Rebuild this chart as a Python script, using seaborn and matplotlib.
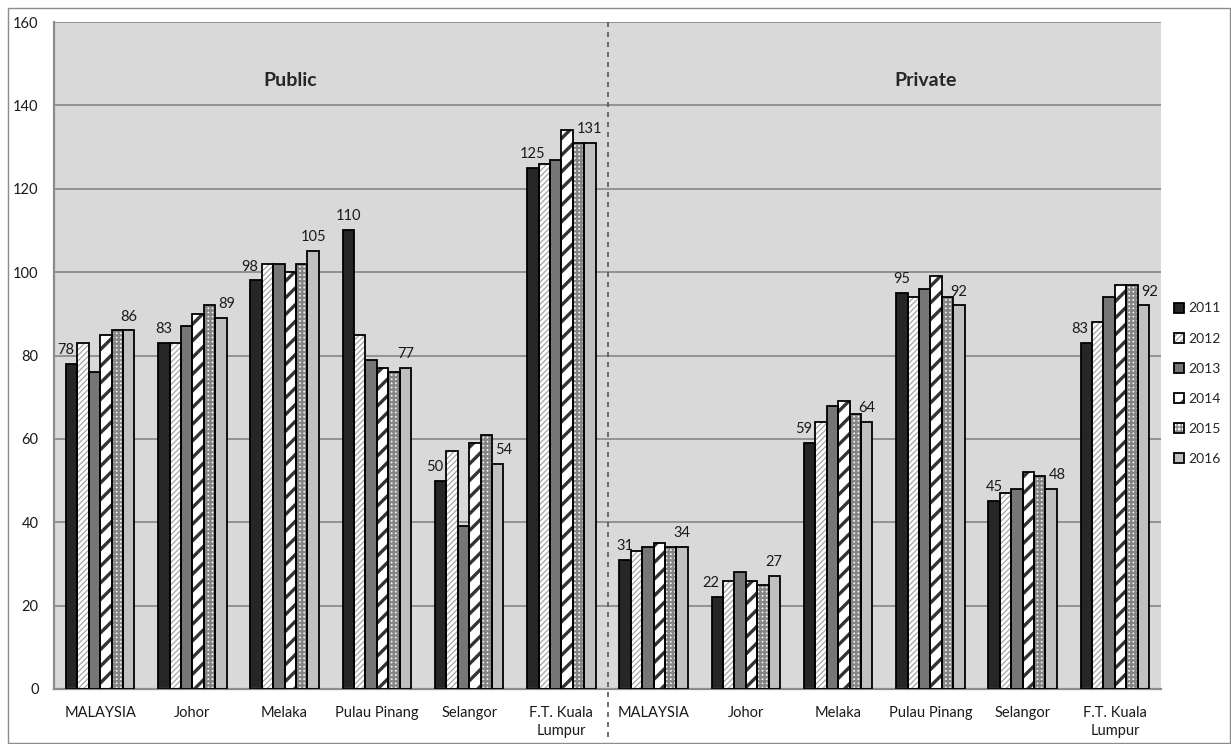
import numpy as np
import pandas as pd
import matplotlib
matplotlib.use("Agg")
import matplotlib.pyplot as plt
import seaborn as sns
from matplotlib.patches import Rectangle
from matplotlib.legend_handler import HandlerTuple

# ---------------- data ----------------
years = ["2011", "2012", "2013", "2014", "2015", "2016"]
regions = ["MALAYSIA", "Johor", "Melaka", "Pulau Pinang", "Selangor", "F.T. Kuala\nLumpur"]
sectors = ["Public", "Private"]

public_2011 = [78, 83, 98, 110, 50, 125]
public_2012 = [83, 83, 102, 85, 57, 126]
public_2013 = [76, 87, 102, 79, 39, 127]
public_2014 = [85, 90, 100, 77, 59, 134]
public_2015 = [86, 92, 102, 76, 61, 131]
public_2016 = [86, 89, 105, 77, 54, 131]

private_2011 = [31, 22, 59, 95, 45, 83]
private_2012 = [33, 26, 64, 94, 47, 88]
private_2013 = [34, 28, 68, 96, 48, 94]
private_2014 = [35, 26, 69, 99, 52, 97]
private_2015 = [34, 25, 66, 94, 51, 97]
private_2016 = [34, 27, 64, 92, 48, 92]

public = [public_2011, public_2012, public_2013, public_2014, public_2015, public_2016]
private = [private_2011, private_2012, private_2013, private_2014, private_2015, private_2016]

rows = []
for sector, table in zip(sectors, [public, private]):
    for yi, y in enumerate(years):
        for ri, r in enumerate(regions):
            rows.append({"slot": f"{sector}|{r}", "region": r, "year": y,
                         "value": table[yi][ri]})
df = pd.DataFrame(rows)
slots = [f"{s}|{r}" for s in sectors for r in regions]

# ---------------- styles ----------------
face = {"2011": "#262626", "2012": "#ffffff", "2013": "#767676",
        "2014": "#ffffff", "2015": "#f4f4f4", "2016": "#c0c0c0"}
hatch = {"2011": None, "2012": "//////", "2013": None,
         "2014": "//", "2015": "++++", "2016": None}
hcol = {"2011": "#262626", "2012": "#a6a6a6", "2013": "#767676",
        "2014": "#333333", "2015": "#858585", "2016": "#c0c0c0"}
hlw = {"2011": 1, "2012": 0.9, "2013": 1, "2014": 2.4, "2015": 1.7, "2016": 1}

sns.set_style("white")
plt.rcParams["font.family"] = ["Lato", "DejaVu Sans"]
plt.rcParams["hatch.linewidth"] = 1.0

fig = plt.figure(figsize=(12.31, 7.44), dpi=100)
ax = fig.add_axes([54 / 1231, 55 / 744, (1161 - 54) / 1231, (689 - 22) / 744])
ax.set_facecolor("#d9d9d9")

sns.barplot(data=df, x="slot", y="value", hue="year", order=slots,
            hue_order=years, palette=[face[y] for y in years], width=0.74,
            saturation=1, ax=ax, legend=False, errorbar=None, zorder=2)
sns.barplot(data=df, x="slot", y="value", hue="year", order=slots,
            hue_order=years, palette=[face[y] for y in years], width=0.74,
            saturation=1, ax=ax, legend=False, errorbar=None, fill=False,
            linewidth=1.3, zorder=3)

fill_conts = ax.containers[:6]
edge_conts = ax.containers[6:12]
for y, cont in zip(years, fill_conts):
    for p in cont.patches:
        p.set_facecolor(face[y])
        p.set_edgecolor(hcol[y])
        p.set_linewidth(0)
        if hatch[y]:
            p.set_hatch(hatch[y])
            if hasattr(p, "set_hatch_linewidth"):
                p.set_hatch_linewidth(hlw[y])
for cont in edge_conts:
    for p in cont.patches:
        p.set_edgecolor("black")
        p.set_facecolor("none")
        p.set_linewidth(1.3)

# data labels: first and last year of each group, nudged outward when the
# neighbouring bar is noticeably taller (as the spreadsheet does)
label_sets = [(fill_conts[0], fill_conts[1], -1), (fill_conts[-1], fill_conts[-2], 1)]
for cont, neigh, side in label_sets:
    for p, q in zip(cont.patches, neigh.patches):
        dx = 4.5 * side if q.get_height() - p.get_height() >= 3 else 0
        ax.annotate(f"{p.get_height():.0f}", (p.get_x() + p.get_width() / 2, p.get_height()),
                    xytext=(dx, 5), textcoords="offset points", ha="center", va="bottom",
                    fontsize=10.5, color="#1a1a1a")

# axes
ax.set_ylim(0, 160)
ax.set_xlim(-0.5, len(slots) - 0.5)
ax.set_yticks(np.arange(0, 161, 20))
ax.yaxis.grid(True, color="#8c8c8c", linewidth=1.3, zorder=0)
ax.set_axisbelow(True)
ax.set_xticks(range(len(slots)))
ax.set_xticklabels(regions * 2)
for lbl in ax.get_xticklabels():
    lbl.set_linespacing(1.35)
ax.tick_params(axis="both", length=0, colors="#1a1a1a")
ax.tick_params(axis="y", pad=11, labelsize=10.5)
ax.tick_params(axis="x", pad=12, labelsize=10.5)
ax.set_xlabel("")
ax.set_ylabel("")
for s in ["top", "right"]:
    ax.spines[s].set_visible(False)
for s in ["left", "bottom"]:
    ax.spines[s].set_color("#8c8c8c")
    ax.spines[s].set_linewidth(1.6)

# separator
ax.plot([5.5, 5.5], [-0.072, 1.0], transform=ax.get_xaxis_transform(),
        clip_on=False, color="#555555", linestyle=(0, (3, 3)), linewidth=1.2, zorder=4)

# sector titles
ax.text(2.06, 146, "Public", ha="center", va="center", fontsize=14, fontweight="bold")
ax.text(8.95, 146, "Private", ha="center", va="center", fontsize=14, fontweight="bold")

# legend
handles = [(f.patches[0], e.patches[0]) for f, e in zip(fill_conts, edge_conts)]
leg = fig.legend(handles, years, loc="upper left",
                 bbox_to_anchor=(1161 / 1231, (744 - 290) / 744),
                 frameon=False, fontsize=10, handlelength=0.75, handleheight=0.75,
                 handletextpad=0.3, labelspacing=1.3,
                 handler_map={tuple: HandlerTuple(ndivide=1)})

# outer frame
fig.patches.append(Rectangle((8 / 1231, 1 / 744), (1230 - 8) / 1231, (743 - 8) / 744,
                             transform=fig.transFigure, fill=False,
                             edgecolor="#8c8c8c", linewidth=1.0))

fig.savefig("out.png", dpi=100)
